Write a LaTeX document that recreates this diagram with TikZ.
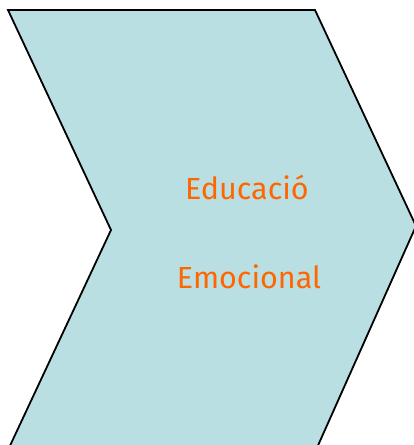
\documentclass[tikz,border=0pt]{standalone}
\usepackage{fontspec}
\setmainfont{Fira Sans}
\usepackage{tikz}
\definecolor{chevfill}{RGB}{185,223,227}
\definecolor{labelorange}{RGB}{255,102,0}

\begin{document}
\begin{tikzpicture}[x=1pt,y=-1pt,
    chev/.style={draw=black,line width=1.8pt,fill=chevfill,line join=miter},
    lbl/.style={text=labelorange,font=\fontsize{30.5}{33}\selectfont,inner sep=0pt}]
  \useasboundingbox (0,0) rectangle (414,445);
  \clip (0,0) rectangle (414,445);
  % chevron
  \draw[chev] (8,10) -- (315,10) -- (416,226) -- (316,450) -- (8,450) -- (111,230) -- cycle;
  \node[lbl] (edu) at (247,187) {Educació};
  \node[lbl] (emo) at (249,277) {Emocional};
\end{tikzpicture}
\end{document}
